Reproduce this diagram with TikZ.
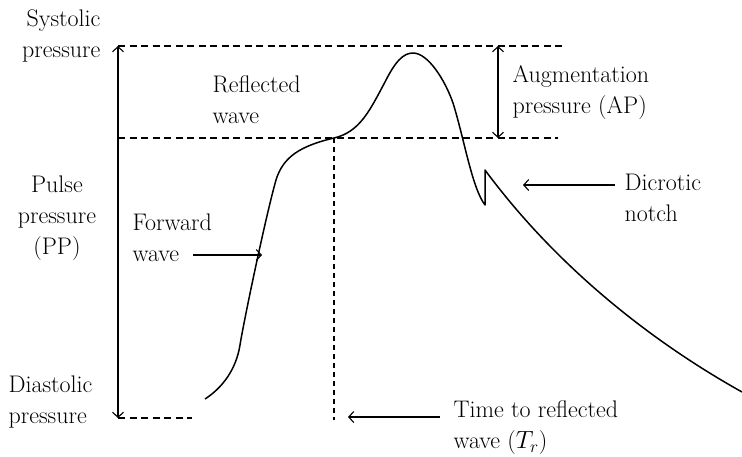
\documentclass[tikz,border=0pt]{standalone}
\usetikzlibrary{arrows.meta}
\begin{document}
\begin{tikzpicture}[x=1pt,y=-1pt,line width=1.2pt,>={Straight Barb[length=5pt,width=11pt]},
  line cap=butt,line join=round,font=\fontsize{24}{31}\selectfont,
  guide/.style={dash pattern=on 7pt off 4.5pt,line width=1.1pt},
  marker/.style={dash pattern=on 5pt off 4pt,line width=1.1pt},
  wave/.style={line width=1.5pt},
  lbl/.style={inner sep=0pt}]
  \useasboundingbox (0,0) rectangle (742,456);
  % reference levels and timing mark
  \coordinate (sysL) at (118,46);
  \coordinate (sysR) at (562,46);
  \coordinate (midL) at (118,138);
  \coordinate (midR) at (558,138);
  \coordinate (diaL) at (118,418);
  \coordinate (diaR) at (192,418);
  \coordinate (trtop) at (334,138);
  \coordinate (trbot) at (334,420);
  \draw[guide] (sysL)--(sysR);
  \draw[guide] (midL)--(midR);
  \draw[guide] (diaL)--(diaR);
  \draw[marker] (trtop)--(trbot);
  % pressure ranges
  \draw[<->,line width=1.1pt] (sysL)--(diaL);
  \coordinate (aptop) at (498,46);
  \coordinate (apbot) at (498,138);
  \draw[<->,line width=1.1pt] (aptop)--(apbot);
  % the pressure wave
  \draw[wave] (205,399) .. controls (222,388) and (236,370) .. (240,345)
    .. controls (244,320) and (266,215) .. (276,180)
    .. controls (283,157) and (300,146) .. (334,138)
    .. controls (360,132) and (370,110) .. (385,82)
    .. controls (395,62) and (403,53) .. (413,53)
    .. controls (428,53) and (445,80) .. (453,103)
    .. controls (464,138) and (472,188) .. (485,205)
    -- (485,170) .. controls (550,258) and (640,335) .. (742,392);
  % labels
  \node[lbl,anchor=east,align=right] (sys) at (101,36) {Systolic\\pressure};
  \node[lbl,anchor=west,align=left] (dia) at (8,402) {Diastolic\\pressure};
  \node[lbl,align=center] (pp) at (57,218) {Pulse\\pressure\\(PP)};
  \node[lbl,anchor=west,align=left] (refl) at (212,100) {Reflected\\wave};
  \node[lbl,anchor=west,align=left] (fwd) at (132,238) {Forward\\wave};
  \node[lbl,anchor=west,align=left] (ap) at (512,93) {Augmentation\\pressure (AP)};
  \node[lbl,anchor=west,align=left] (dic) at (624,198) {Dicrotic\\notch};
  \node[lbl,anchor=west,align=left] (tr) at (453,428) {Time to reflected\\wave ($T_r$)};
  % pointers
  \coordinate (fwdtail) at (193,255);
  \coordinate (fwdhead) at (262,255);
  \coordinate (dictail) at (615,185);
  \coordinate (dichead) at (523,185);
  \coordinate (trtail) at (440,417);
  \coordinate (trhead) at (348,417);
  \draw[->,line width=1.1pt] (fwdtail)--(fwdhead);
  \draw[->,line width=1.1pt] (dictail)--(dichead);
  \draw[->,line width=1.1pt] (trtail)--(trhead);
\end{tikzpicture}
\end{document}
